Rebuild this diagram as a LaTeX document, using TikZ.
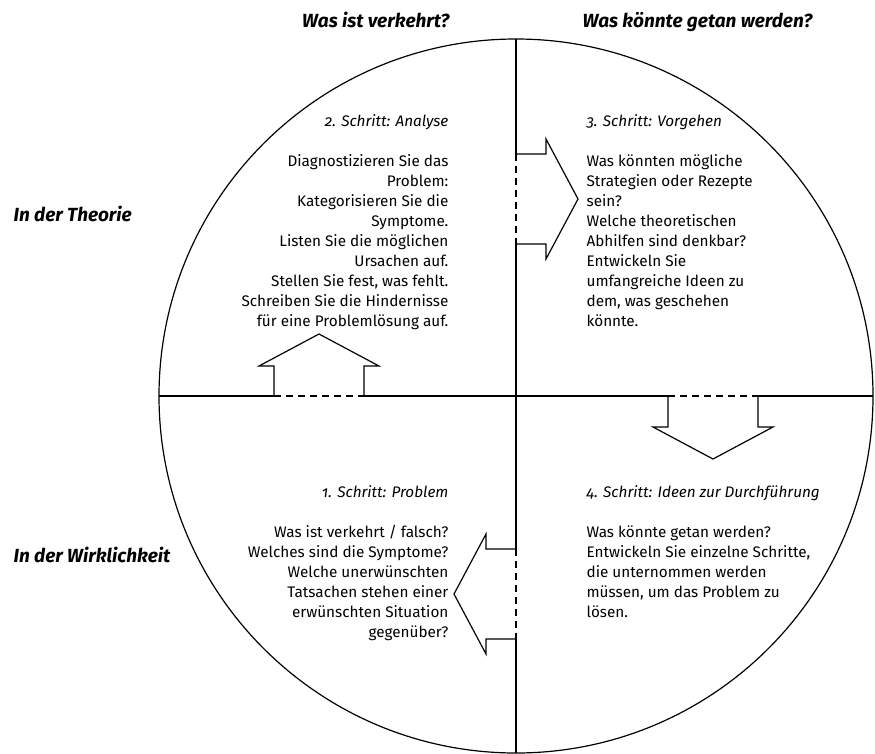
\documentclass[tikz,border=0pt]{standalone}
\usepackage{fontspec}
\setmainfont{Fira Sans}
\newfontfamily\stepfont[Numbers=OldStyle]{Fira Sans}
\begin{document}
\begin{tikzpicture}[
x=1pt, y=-1pt,
line width=1.2pt,
every node/.style={inner sep=0pt},
bodytext/.style={font=\fontsize{15.3}{20}\selectfont},
headtext/.style={font=\fontsize{19}{22}\selectfont\bfseries\itshape},
gapline/.style={dash pattern=on 7pt off 5pt},
hollowarrow/.style={line join=miter}
]
\useasboundingbox (0,0) rectangle (875,753);

%---------------- Frame ----------------
\draw (516,396) circle[radius=357pt];
\coordinate (top) at (516,39);
\coordinate (bottom) at (516,753);
\coordinate (left) at (159,396);
\coordinate (right) at (873,396);

% horizontal axis, open where the arrows pass
\draw (left) -- (274,396);
\draw[gapline] (274,396) -- (364,396);
\draw (364,396) -- (668,396);
\draw[gapline] (668,396) -- (758,396);
\draw (758,396) -- (right);

% vertical axis, open where the arrows pass
\draw (top) -- (516,154);
\draw[gapline] (516,154) -- (516,244);
\draw (516,244) -- (516,549);
\draw[gapline] (516,549) -- (516,639);
\draw (516,639) -- (bottom);

%---------------- Arrows ----------------
% 1 -> 2
\draw[hollowarrow] (274,396) -- (274,366) -- (259,366) -- (319,334)
  -- (379,366) -- (364,366) -- (364,396);
% 2 -> 3
\draw[hollowarrow] (516,154) -- (546,154) -- (546,139) -- (578,199)
  -- (546,259) -- (546,244) -- (516,244);
% 3 -> 4
\draw[hollowarrow] (668,396) -- (668,427) -- (653,427) -- (713,459)
  -- (773,427) -- (758,427) -- (758,396);
% 4 -> 1
\draw[hollowarrow] (516,549) -- (486,549) -- (486,534) -- (454,594)
  -- (486,654) -- (486,639) -- (516,639);

%---------------- Headings ----------------
\node[headtext, anchor=base east] (wrong) at (450,27) {Was ist verkehrt?};
\node[headtext, anchor=base west] (todo) at (582,27) {Was könnte getan werden?};
\node[headtext, anchor=base west] (theory) at (13,221) {In der Theorie};
\node[headtext, anchor=base west] (reality) at (13,562) {In der Wirklichkeit};

%---------------- Steps ----------------
\node[bodytext, align=right, anchor=north east] (analyse) at (449,112) {\strut{\stepfont\itshape 2. Schritt: Analyse}\\[20pt]
Diagnostizieren Sie das\\ Problem:\\ Kategorisieren Sie die\\ Symptome.\\
Listen Sie die möglichen\\ Ursachen auf.\\ Stellen Sie fest, was fehlt.\\
Schreiben Sie die Hindernisse\\ für eine Problemlösung auf.};

\node[bodytext, align=left, anchor=north west] (vorgehen) at (586,112) {\strut{\stepfont\itshape 3. Schritt: Vorgehen}\\[20pt]
Was könnten mögliche\\ Strategien oder Rezepte\\ sein?\\ Welche theoretischen\\
Abhilfen sind denkbar?\\ Entwickeln Sie\\ umfangreiche Ideen zu\\
dem, was geschehen\\ könnte.};

\node[bodytext, align=right, anchor=north east] (problem) at (449,483) {\strut{\stepfont\itshape 1. Schritt: Problem}\\[20pt]
Was ist verkehrt / falsch?\\ Welches sind die Symptome?\\ Welche unerwünschten\\
Tatsachen stehen einer\\ erwünschten Situation\\ gegenüber?};

\node[bodytext, align=left, anchor=north west] (ideen) at (586,483) {\strut{\stepfont\itshape 4. Schritt: Ideen zur Durchführung}\\[20pt]
Was könnte getan werden?\\ Entwickeln Sie einzelne Schritte,\\ die unternommen werden\\
müssen, um das Problem zu\\ lösen.};

\end{tikzpicture}
\end{document}
